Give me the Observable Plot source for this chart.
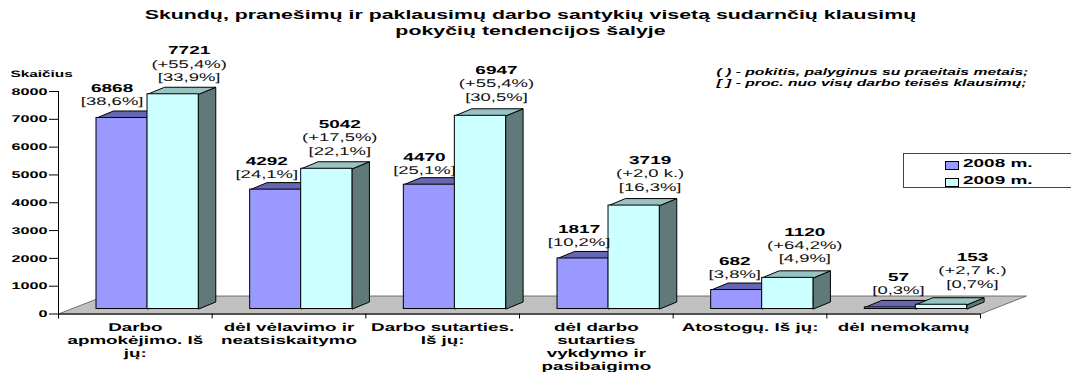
<!DOCTYPE html>
<html><head><meta charset="utf-8">
<script src="https://cdn.jsdelivr.net/npm/d3@7"></script>
<script src="https://cdn.jsdelivr.net/npm/@observablehq/plot@0.6"></script>
<style>
html,body{margin:0;padding:0;background:#fff;overflow:hidden}
#wrap{position:relative;width:1071px;height:372px;font-family:"Liberation Sans",Arial,sans-serif;color:#000}
#title{position:absolute;left:0;top:8px;width:1061px;text-align:center;font-weight:bold;font-size:12.2px;line-height:15.5px;transform:scaleX(1.75);transform-origin:530.5px 0;white-space:nowrap}
#legend{position:absolute;left:903px;top:153px;width:170px;height:35px;border:1px solid #444;background:#fff;box-sizing:border-box}
#legend .row{position:absolute;left:41px;height:14px;width:120px}
#legend i{position:absolute;left:0;top:3px;width:12px;height:7px;border:1px solid #000;box-sizing:content-box}
#legend span{position:absolute;left:18px;top:-1px;font-weight:bold;font-size:11.5px;white-space:nowrap;transform:scaleX(1.65);transform-origin:0 0}
svg{overflow:visible;position:absolute;left:0;top:40px}
svg text{font-family:"Liberation Sans",Arial,sans-serif;text-rendering:geometricPrecision}
</style></head><body>
<div id="wrap">
<div id="title">Skundų, pranešimų ir paklausimų darbo santykių visetą sudarnčių klausimų<br>pokyčių tendencijos šalyje</div>
<div id="chart"></div>
<div id="legend">
<div class="row" style="top:4px"><i style="background:#9999FF"></i><span>2008 m.</span></div>
<div class="row" style="top:21px"><i style="background:#CCFFFF"></i><span>2009 m.</span></div>
</div>
</div>
<script>
const categories = ["Darbo\napmokėjimo. Iš\njų:","dėl vėlavimo ir\nneatsiskaitymo","Darbo sutarties.\nIš jų:","dėl darbo\nsutarties\nvykdymo ir\npasibaigimo","Atostogų. Iš jų:","dėl nemokamų"];
const values2008 = [6868,4292,4470,1817,682,57];
const values2009 = [7721,5042,6947,3719,1120,153];
const notes2008 = ["[38,6%]","[24,1%]","[25,1%]","[10,2%]","[3,8%]","[0,3%]"];
const notes2009 = ["(+55,4%)\n[33,9%]","(+17,5%)\n[22,1%]","(+55,4%)\n[30,5%]","(+2,0 k.)\n[16,3%]","(+64,2%)\n[4,9%]","(+2,7 k.)\n[0,7%]"];
const yTicks = [0,1000,2000,3000,4000,5000,6000,7000,8000];
const noteLines = ["( ) - pokitis, palyginus su praeitais metais;","[ ] - proc. nuo visų darbo teisės klausimų;"];
const shift2008 = [-10,-9,-5,-4,-2,8];
const shift2009 = [16,13,16,16,17,31];
const lift2008 = [0,1.5,2.5,1,1,0];
const lift2009 = [0,-1,-2,-2,-2.5,-4];

const X_STRETCH = 1.65;
const LINE = 13.4;
const depthX = 17/153.67, depthY = 252;
const floorX = 46/153.67, floorY = 647;
const barStart = [0.2473, 0.5793], barW = 0.3335;
const series = [
  {vals: values2008, notes: notes2008, shift: shift2008, lift: lift2008, front:"#9999FF", top:"#6666B3", side:"#666699"},
  {vals: values2009, notes: notes2009, shift: shift2009, lift: lift2009, front:"#CCFFFF", top:"#99C2C2", side:"#607A7A"}
];
const marks = [];
const floor = [[0,0],[floorX,floorY],[6+floorX,floorY],[6,0]].map(([x,y])=>({x,y}));
marks.push(Plot.line(floor,{x:"x",y:"y",fill:"#C0C0C0",stroke:"#555",strokeWidth:0.8,curve:"linear-closed"}));
marks.push(Plot.ruleY([0],{stroke:"#000",strokeWidth:1}));
marks.push(Plot.axisX({ticks:[0,1,2,3,4,5,6],tickSize:5,tickFormat:()=>"",label:null}));
marks.push(Plot.ruleX([0],{y1:0,y2:8000,stroke:"#000"}));
marks.push(Plot.axisY({ticks:yTicks,tickSize:9,tickPadding:2,fontWeight:"bold",fontSize:9.8,label:null,tickFormat:d=>String(d)}));
series.forEach((s,k)=>{
  const side=[],top=[],front=[];
  s.vals.forEach((v,i)=>{
    const x0=i+barStart[k], x1=x0+barW;
    [[x1,0],[x1+depthX,depthY],[x1+depthX,v+depthY],[x1,v]].forEach(([x,y])=>side.push({id:i,x,y}));
    [[x0,v],[x0+depthX,v+depthY],[x1+depthX,v+depthY],[x1,v]].forEach(([x,y])=>top.push({id:i,x,y}));
    front.push({x1:x0,x2:x1,y1:0,y2:v});
  });
  const st={x:"x",y:"y",z:"id",stroke:"#000",strokeWidth:1,strokeLinejoin:"round",curve:"linear-closed",dy:-5};
  marks.push(Plot.line(side,{...st,fill:s.side}));
  marks.push(Plot.line(top,{...st,fill:s.top}));
  marks.push(Plot.rect(front,{x1:"x1",x2:"x2",y1:"y1",y2:"y2",fill:s.front,stroke:"#000",strokeWidth:1,dy:-5}));
});
series.forEach((s,k)=>{
  s.vals.forEach((v,i)=>{
    const cx=i+barStart[k]+barW/2, nl=s.notes[i].split("\n").length;
    const base=-11+s.lift[i];
    marks.push(Plot.text([{x:cx,y:v+depthY,t:s.notes[i]}],{x:"x",y:"y",text:"t",lineAnchor:"bottom",dx:s.shift[i],dy:base,fontSize:11.2,lineHeight:LINE/11.2,fill:"#111"}));
    marks.push(Plot.text([{x:cx,y:v+depthY,t:String(v)}],{x:"x",y:"y",text:"t",lineAnchor:"bottom",dx:s.shift[i],dy:base-nl*LINE,fontSize:11.5,fontWeight:"bold"}));
  });
});
marks.push(Plot.text(categories,{x:(d,i)=>i+0.5,y:()=>0,text:d=>d,lineAnchor:"top",dy:7.5,fontSize:11.4,fontWeight:"bold",lineHeight:13.2/11.4}));
marks.push(Plot.text(["Skaičius"],{x:()=>0,y:()=>8000,text:d=>d,textAnchor:"start",dx:-48,dy:-15,fontSize:9.3,fontWeight:"bold",lineAnchor:"bottom"}));
marks.push(Plot.text(noteLines,{x:()=>4.282,y:(d,i)=>8700-i*400,text:d=>d,textAnchor:"start",fontSize:9.5,fontWeight:"bold",fontStyle:"italic"}));

const chart = Plot.plot({
  width:1071,height:332,
  marginLeft:58,marginRight:91,marginTop:51,marginBottom:58.5,
  x:{type:"linear",domain:[0,6],axis:null},
  y:{domain:[0,8000],axis:null},
  style:{background:"transparent",color:"#000"},
  marks
});
document.getElementById("chart").appendChild(chart);
chart.querySelectorAll("text").forEach(t=>{
  const tr=t.getAttribute("transform")||"";
  t.setAttribute("transform",tr+" scale("+X_STRETCH+",1)");
});
</script>
</body></html>
